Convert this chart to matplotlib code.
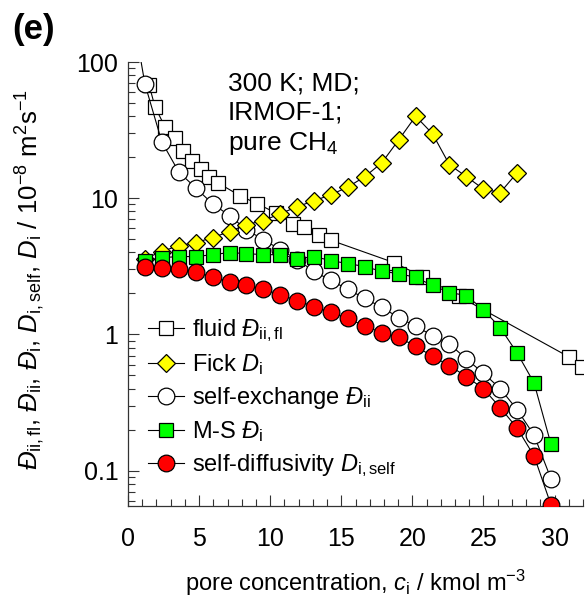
import matplotlib
matplotlib.use("Agg")
import matplotlib.pyplot as plt
from matplotlib.ticker import FixedLocator, NullFormatter, LogLocator

plt.rcParams["font.family"] = ["Liberation Sans", "DejaVu Sans"]
plt.rcParams["mathtext.fontset"] = "custom"
plt.rcParams["mathtext.rm"] = "Liberation Sans"
plt.rcParams["mathtext.it"] = "Liberation Sans:italic"
plt.rcParams["mathtext.bf"] = "Liberation Sans:bold"

# loadings (kmol/m3) of the MD runs
c_md = [1.19, 2.38, 3.57, 4.76, 5.95, 7.14, 8.33, 9.52, 10.71, 11.9,
        13.09, 14.28, 15.47, 16.66, 17.85, 19.04, 20.23, 21.42, 22.61, 23.8,
        24.99, 26.18, 27.37, 28.56, 29.75]

# fluid diffusivity, own loading grid
c_fluid = [1.48, 1.9, 2.6, 3.3, 3.9, 4.5, 5.1, 5.7, 6.3, 7.9, 9.1, 10.4,
           11.6, 12.35, 13.4, 14.3, 18.7, 20.7, 23.3, 31.05, 31.9]
D_fluid = [68, 46.8, 33.4, 27.8, 22.3, 18.8, 16.5, 14.4, 13.0, 10.4, 9.1, 7.8,
           6.5, 6.1, 5.4, 4.9, 3.37, 2.66, 1.90, 0.68, 0.58]

# Fick diffusivity
D_fick = [3.60, 4.06, 4.49, 4.72, 5.14, 5.69, 6.40, 6.84, 7.70, 8.66, 9.59,
          10.6, 12.1, 14.4, 18.2, 26.8, 40.0, 29.7, 17.6, 14.4, 11.7, 11.0, 15.4]

# self-exchange diffusivity (first point lies above the plotted range)
c_self_ex = [0.5] + c_md
D_self_ex = [180, 69, 25.9, 15.6, 11.9, 9.1, 7.45, 5.88, 4.96, 4.2, 3.54, 2.90,
             2.49, 2.14, 1.84, 1.58, 1.33, 1.15, 0.98, 0.85, 0.66, 0.52, 0.40,
             0.28, 0.182, 0.087]

# Maxwell-Stefan diffusivity
D_ms = [3.48, 3.66, 3.73, 3.73, 3.85, 3.99, 3.92, 3.85, 3.85, 3.60, 3.73,
        3.48, 3.31, 3.15, 2.90, 2.80, 2.62, 2.29, 2.03, 1.93, 1.52, 1.12,
        0.73, 0.44, 0.156]

# self-diffusivity
D_self = [3.10, 3.05, 3.00, 2.85, 2.66, 2.44, 2.29, 2.14, 1.96, 1.77, 1.60,
          1.45, 1.31, 1.15, 1.03, 0.95, 0.82, 0.69, 0.59, 0.49, 0.40, 0.29,
          0.205, 0.128, 0.056]

fig = plt.figure(figsize=(5.86, 6.08), dpi=100)
ax = fig.add_axes([128 / 586, 1 - 506 / 608, 455 / 586, 444 / 608])

kw = dict(color="black", lw=0.8, mec="black", mew=0.9)
h_fl, = ax.plot(c_fluid, D_fluid, marker="s", ms=10, mfc="white", zorder=2,
                label=r"fluid $\mathit{Đ}_{\rm ii,fl}$", **kw)
h_se, = ax.plot(c_self_ex, D_self_ex, marker="o", ms=12, mfc="white", zorder=3,
                label=r"self-exchange $\mathit{Đ}_{\rm ii}$", **kw)
h_fk, = ax.plot(c_md[:len(D_fick)], D_fick, marker="D", ms=9, mfc="#ffff00",
                zorder=4, label=r"Fick $\mathit{D}_{\rm i}$", **kw)
h_ms, = ax.plot(c_md, D_ms, marker="s", ms=10, mfc="#00ff00", zorder=5,
                label=r"M-S $\mathit{Đ}_{\rm i}$", **kw)
h_sd, = ax.plot(c_md, D_self, marker="o", ms=12, mfc="#ff0000", zorder=6,
                label=r"self-diffusivity $\mathit{D}_{\rm i,self}$", **kw)

ax.set_yscale("log")
ax.set_xlim(0, 32)
ax.set_ylim(0.055, 100)

ax.xaxis.set_major_locator(FixedLocator([0, 5, 10, 15, 20, 25, 30]))
ax.xaxis.set_minor_locator(FixedLocator(range(0, 33)))
ax.yaxis.set_major_locator(FixedLocator([0.1, 1, 10, 100]))
ax.yaxis.set_minor_locator(LogLocator(base=10, subs=range(2, 10)))
ax.yaxis.set_minor_formatter(NullFormatter())
ax.set_yticklabels(["0.1", "1", "10", "100"])

ax.tick_params(which="both", direction="in", labelsize=18, width=0.8,
               colors="#333333", labelcolor="black")
ax.tick_params(which="major", length=8)
ax.tick_params(which="minor", length=5)
ax.tick_params(axis="x", which="major", pad=15)
ax.tick_params(axis="y", which="major", pad=7)
ax.spines["top"].set_visible(False)
ax.spines["right"].set_visible(False)
for s in ("left", "bottom"):
    ax.spines[s].set_linewidth(0.9)
    ax.spines[s].set_color("#333333")

ax.set_xlabel(r"pore concentration, $\mathit{c}_{\rm i}$ / kmol m$^{-3}$",
              fontsize=17)
ax.xaxis.set_label_coords(0.5, -0.14)
ax.set_ylabel(r"$\mathit{Đ}_{\rm ii,fl}$, $\mathit{Đ}_{\rm ii}$, "
              r"$\mathit{Đ}_{\rm i}$, $\mathit{D}_{\rm i,self}$, "
              r"$\mathit{D}_{\rm i}$ / 10$^{-8}$ m$^{2}$s$^{-1}$", fontsize=18.5)
ax.yaxis.set_label_coords(-0.178, 0.51)

ax.text(228 / 586, 1 - 72 / 608, "300 K; MD;\nIRMOF-1;\npure CH$_4$",
        transform=fig.transFigure, fontsize=19, va="top", ha="left",
        linespacing=1.25)
fig.text(12 / 586, 1 - 13 / 608, "(e)", fontsize=25, fontweight="bold",
         va="top", ha="left")

ax.legend(handles=[h_fl, h_fk, h_se, h_ms, h_sd], loc="lower left",
          bbox_to_anchor=(0.045, 0.06), frameon=False, fontsize=17,
          handlelength=1.5, handletextpad=0.35, labelspacing=0.35,
          borderaxespad=0, borderpad=0)

fig.savefig("out.png", dpi=100)
